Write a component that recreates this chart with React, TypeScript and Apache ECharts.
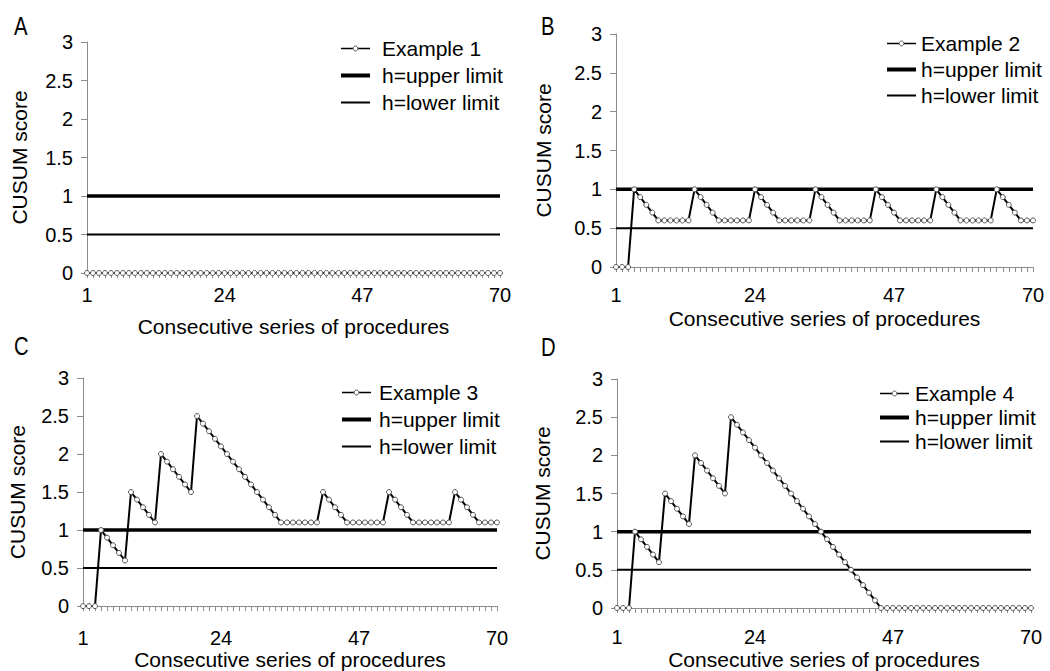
import React, { useEffect, useRef } from "react";
import * as echarts from "echarts";

// ---------- data ----------
const categories: string[] = [
  "1","2","3","4","5","6","7","8","9","10","11","12","13","14","15","16","17","18","19","20",
  "21","22","23","24","25","26","27","28","29","30","31","32","33","34","35","36","37","38","39","40",
  "41","42","43","44","45","46","47","48","49","50","51","52","53","54","55","56","57","58","59","60",
  "61","62","63","64","65","66","67","68","69","70",
];
const xTickLabels = ["1", "24", "47", "70"];

const example1: number[] = [
  0,0,0,0,0,0,0,0,0,0, 0,0,0,0,0,0,0,0,0,0,
  0,0,0,0,0,0,0,0,0,0, 0,0,0,0,0,0,0,0,0,0,
  0,0,0,0,0,0,0,0,0,0, 0,0,0,0,0,0,0,0,0,0,
  0,0,0,0,0,0,0,0,0,0,
];
const example2: number[] = [
  0,0,0,
  1,0.9,0.8,0.7,0.6,0.6,0.6,0.6,0.6,0.6,
  1,0.9,0.8,0.7,0.6,0.6,0.6,0.6,0.6,0.6,
  1,0.9,0.8,0.7,0.6,0.6,0.6,0.6,0.6,0.6,
  1,0.9,0.8,0.7,0.6,0.6,0.6,0.6,0.6,0.6,
  1,0.9,0.8,0.7,0.6,0.6,0.6,0.6,0.6,0.6,
  1,0.9,0.8,0.7,0.6,0.6,0.6,0.6,0.6,0.6,
  1,0.9,0.8,0.7,0.6,0.6,0.6,
];
const example3: number[] = [
  0,0,0,
  1,0.9,0.8,0.7,0.6,
  1.5,1.4,1.3,1.2,1.1,
  2,1.9,1.8,1.7,1.6,1.5,
  2.5,2.4,2.3,2.2,2.1,2,1.9,1.8,1.7,1.6,1.5,1.4,1.3,1.2,1.1,
  1.1,1.1,1.1,1.1,1.1,1.1,
  1.5,1.4,1.3,1.2,1.1,1.1,1.1,1.1,1.1,1.1,1.1,
  1.5,1.4,1.3,1.2,1.1,1.1,1.1,1.1,1.1,1.1,1.1,
  1.5,1.4,1.3,1.2,1.1,1.1,1.1,1.1,
];
const example4: number[] = [
  0,0,0,
  1,0.9,0.8,0.7,0.6,
  1.5,1.4,1.3,1.2,1.1,
  2,1.9,1.8,1.7,1.6,1.5,
  2.5,2.4,2.3,2.2,2.1,2,1.9,1.8,1.7,1.6,1.5,1.4,1.3,1.2,1.1,1,0.9,0.8,0.7,0.6,0.5,0.4,0.3,0.2,0.1,0,
  0,0,0,0,0,0,0,0,0,0,0,0,0,0,0,0,0,0,0,0,0,0,0,0,0,
];
const upperLimit = 1;
const lowerLimit = 0.5;
const seriesNames = ["Example 1", "Example 2", "Example 3", "Example 4"];
const panelLetters = ["A", "B", "C", "D"];
const seriesData = [example1, example2, example3, example4];

// ---------- layout ----------
const FONT = '"Liberation Sans", Arial, Helvetica, sans-serif';
const AXIS = "#8c8c8c";
const MARK_EDGE = "#555";

const layout = [
  { l: 87, r: 500, t: 42, b: 273, lm: 12, ng: 43, yg: 57, lg: { x: 339, y: 38, gap: 6, pad: 7 }, letter: { x: 14, y: 26 } },
  { l: 616, r: 1033, t: 34, b: 267, lm: 18, ng: 41, yg: 62, lg: { x: 885, y: 33, gap: 5, pad: 0 }, letter: { x: 541, y: 26 } },
  { l: 83, r: 497, t: 378, b: 608, lm: 22, ng: 42, yg: 55, lg: { x: 340, y: 382, gap: 6, pad: 3 }, letter: { x: 14, y: 346 } },
  { l: 617, r: 1031, t: 379, b: 611, lm: 19, ng: 41, yg: 64, lg: { x: 878, y: 383, gap: 3, pad: 1 }, letter: { x: 541, y: 347 } },
];

function buildOption() {
  const grid = layout.map((p) => ({
    left: p.l,
    top: p.t,
    width: p.r - p.l,
    height: p.b - p.t,
    containLabel: false,
  }));

  const xAxis = layout.map((p, i) => ({
    type: "category",
    gridIndex: i,
    data: categories,
    boundaryGap: false,
    axisLine: { show: true, lineStyle: { color: AXIS, width: 1 } },
    axisTick: { show: true, interval: 0, length: 5, lineStyle: { color: AXIS } },
    axisLabel: {
      interval: (_idx: number, val: string) => xTickLabels.includes(val),
      color: "#000",
      fontSize: 20,
      fontFamily: FONT,
      margin: p.lm,
    },
    splitLine: { show: false },
    name: "Consecutive series of procedures",
    nameLocation: "middle",
    nameGap: p.ng,
    nameTextStyle: { fontSize: 21, color: "#000", fontFamily: FONT },
  }));

  const yAxis = layout.map((p, i) => ({
    type: "value",
    gridIndex: i,
    min: 0,
    max: 3,
    interval: 0.5,
    axisLine: { show: true, lineStyle: { color: AXIS, width: 1 } },
    axisTick: { show: true, length: 6, lineStyle: { color: AXIS } },
    axisLabel: { color: "#000", fontSize: 20, fontFamily: FONT, margin: 14 },
    splitLine: { show: false },
    name: "CUSUM score",
    nameLocation: "middle",
    nameRotate: 90,
    nameGap: p.yg,
    nameTextStyle: { fontSize: 21, color: "#000", fontFamily: FONT },
  }));

  const series: any[] = [];
  layout.forEach((_p, i) => {
    series.push({
      name: "h=upper limit",
      type: "line",
      xAxisIndex: i,
      yAxisIndex: i,
      data: categories.map(() => upperLimit),
      symbol: "none",
      showSymbol: false,
      lineStyle: { color: "#000", width: 3.5 },
      itemStyle: { color: "#000" },
      silent: true,
      z: 2,
    });
    series.push({
      name: "h=lower limit",
      type: "line",
      xAxisIndex: i,
      yAxisIndex: i,
      data: categories.map(() => lowerLimit),
      symbol: "none",
      showSymbol: false,
      lineStyle: { color: "#000", width: 2 },
      itemStyle: { color: "#000" },
      silent: true,
      z: 2,
    });
    series.push({
      name: seriesNames[i],
      type: "line",
      xAxisIndex: i,
      yAxisIndex: i,
      data: seriesData[i],
      symbol: "circle",
      symbolSize: 5,
      showSymbol: true,
      showAllSymbol: true,
      lineStyle: { color: "#000", width: 2 },
      itemStyle: { color: "#fff", borderColor: MARK_EDGE, borderWidth: 1 },
      silent: true,
      z: 3,
    });
  });

  const legend = layout.map((p, i) => ({
    orient: "vertical",
    left: p.lg.x,
    top: p.lg.y,
    padding: 0,
    itemWidth: 29,
    itemHeight: 6,
    itemGap: p.lg.gap,
    selectedMode: false,
    textStyle: { fontSize: 21, color: "#000", fontFamily: FONT, lineHeight: 20, padding: [0, 0, 0, p.lg.pad] },
    data: [
      {
        name: seriesNames[i],
        itemStyle: { color: "#fff", borderColor: MARK_EDGE, borderWidth: 1 },
        lineStyle: { color: "#000", width: 1.5 },
      },
      { name: "h=upper limit", itemStyle: { opacity: 0 }, lineStyle: { color: "#000", width: 4 } },
      { name: "h=lower limit", itemStyle: { opacity: 0 }, lineStyle: { color: "#000", width: 2 } },
    ],
  }));

  const graphic = layout.map((p, i) => ({
    type: "text",
    x: p.letter.x,
    y: p.letter.y,
    scaleX: 0.78,
    style: {
      text: panelLetters[i],
      fontSize: 26,
      fontFamily: FONT,
      fill: "#000",
      verticalAlign: "middle",
      align: "left",
    },
  }));

  return {
    animation: false,
    backgroundColor: "#fff",
    textStyle: { fontFamily: FONT },
    grid,
    xAxis,
    yAxis,
    legend,
    series,
    graphic,
  };
}

export default function App() {
  const ref = useRef<HTMLDivElement>(null);
  useEffect(() => {
    if (!ref.current) return;
    const chart = echarts.init(ref.current, undefined, { renderer: "svg" });
    chart.setOption(buildOption() as any);
    return () => chart.dispose();
  }, []);
  return (
    <div
      ref={ref}
      style={{ position: "absolute", left: 0, top: 0, width: 1050, height: 671, background: "#fff" }}
    />
  );
}
